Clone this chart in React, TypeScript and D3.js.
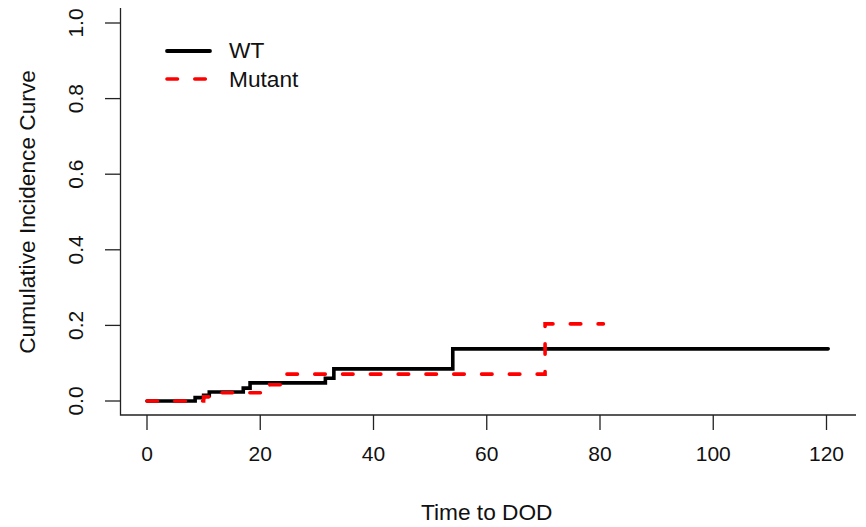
import React from 'react';
import * as d3 from 'd3';

// cumulative incidence
const wtTime = [0, 8.5, 10, 11, 17, 18.2, 31.5, 33, 54, 120.3];
const wtCif = [0, 0.009, 0.015, 0.024, 0.034, 0.048, 0.06, 0.085, 0.138, 0.138];

const mutTime = [0, 10, 11, 21.7, 24.4, 70.3, 80.6];
const mutCif = [0, 0.011, 0.022, 0.043, 0.071, 0.204, 0.204];

const xTicks = [0, 20, 40, 60, 80, 100, 120];
const yTicks = [0, 0.2, 0.4, 0.6, 0.8, 1.0];

const W = 866;
const H = 527;
const font = '"Liberation Sans", Arial, sans-serif';
const tickSize = 21;
const labSize = 22.7;

const App = () => {
  const x = d3.scaleLinear().domain([0, 120]).range([147, 826.5]);
  const y = d3.scaleLinear().domain([0, 1]).range([401, 23]);

  const line = d3
    .line<[number, number]>()
    .x((d) => x(d[0]))
    .y((d) => y(d[1]))
    .curve(d3.curveStepAfter);

  const wt = wtTime.map((t, i) => [t, wtCif[i]] as [number, number]);
  const mut = mutTime.map((t, i) => [t, mutCif[i]] as [number, number]);

  const axisY = 415;
  const axisX = 120.5;

  return (
    <div style={{ position: 'fixed', left: 0, top: 0 }}>
      <svg width={W} height={H} style={{ display: 'block', background: '#fff' }}>
        {/* L-shaped frame */}
        <path
          d={`M${axisX},8 V${axisY} H856`}
          fill="none"
          stroke="#222"
          strokeWidth={1.3}
        />
        {yTicks.map((t) => (
          <g key={'y' + t}>
            <line x1={105} x2={axisX} y1={y(t)} y2={y(t)} stroke="#222" strokeWidth={1.3} />
            <text
              transform={`translate(83,${y(t)}) rotate(-90)`}
              textAnchor="middle"
              fontFamily={font}
              fontSize={tickSize}
              fill="#111"
            >
              {t.toFixed(1)}
            </text>
          </g>
        ))}
        {xTicks.map((t) => (
          <g key={'x' + t}>
            <line x1={x(t)} x2={x(t)} y1={axisY} y2={430} stroke="#222" strokeWidth={1.3} />
            <text x={x(t)} y={461} textAnchor="middle" fontFamily={font} fontSize={tickSize} fill="#111">
              {t}
            </text>
          </g>
        ))}
        <text x={x(60)} y={520} textAnchor="middle" fontFamily={font} fontSize={labSize} fill="#111">
          Time to DOD
        </text>
        <text
          transform={`translate(35,${y(0.5)}) rotate(-90)`}
          textAnchor="middle"
          fontFamily={font}
          fontSize={labSize}
          fill="#111"
        >
          Cumulative Incidence Curve
        </text>

        {/* curves */}
        <path d={line(wt) ?? ''} fill="none" stroke="#000" strokeWidth={3.6} strokeLinecap="round" />
        <path
          d={line(mut) ?? ''}
          fill="none"
          stroke="#ff0000"
          strokeWidth={3.6}
          strokeLinecap="round"
          strokeDasharray="10.5 17.3"
        />

        {/* legend */}
        <line x1={167} x2={210} y1={51} y2={51} stroke="#000" strokeWidth={3.8} strokeLinecap="round" />
        <text x={229} y={58} fontFamily={font} fontSize={labSize} fill="#111">
          WT
        </text>
        <line
          x1={167}
          x2={210}
          y1={79}
          y2={79}
          stroke="#ff0000"
          strokeWidth={3.6}
          strokeLinecap="round"
          strokeDasharray="10.5 17.3"
        />
        <text x={229} y={87} fontFamily={font} fontSize={labSize} fill="#111">
          Mutant
        </text>
      </svg>
    </div>
  );
};

export default App;
